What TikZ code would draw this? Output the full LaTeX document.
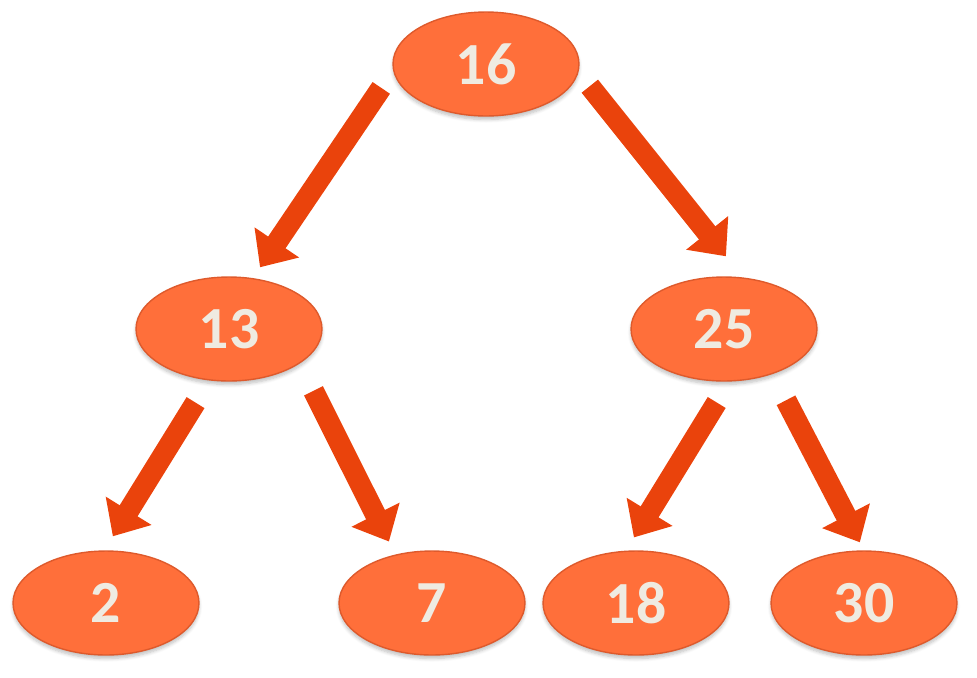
\documentclass[tikz,border=0pt]{standalone}
\usepackage{fontspec}
\setmainfont{Carlito}
\usepackage{xcolor}
\usepackage{tikz}
\usetikzlibrary{shapes.geometric, arrows.meta, shadows.blur}
\definecolor{keycolor}{HTML}{FF6F3A}
\definecolor{keyedge}{HTML}{DE5A2C}
\definecolor{linkcolor}{HTML}{EA430C}
\definecolor{digitcolor}{HTML}{EFEBE1}

\begin{document}
\begin{tikzpicture}[
    x=0.02cm, y=-0.02cm,
    key/.style={ellipse, draw=keyedge, line width=0.8pt, fill=keycolor, minimum width=3.72cm, minimum height=2.08cm, inner sep=0pt, text=digitcolor, font=\fontsize{34}{40}\selectfont\bfseries, blur shadow={shadow xshift=0pt, shadow yshift=-2pt, shadow blur steps=6, shadow opacity=25}},
    link/.style={line width=0.42cm, draw=linkcolor, -{Triangle[length=0.6cm, width=1.04cm]}}
]
\useasboundingbox (0,0) rectangle (977,677);
% keys of the tree
\node[key] (k16) at (486,64) {16};
\node[key] (k13) at (229,329) {13};
\node[key] (k25) at (724,329) {25};
\node[key] (k2) at (106,603) {2};
\node[key] (k7) at (432,603) {7};
\node[key] (k18) at (636,603) {18};
\node[key] (k30) at (864,603) {30};
% links
\draw[link, shorten <=0.42cm, shorten >=0.26cm] (k16.184) -- (k13.65);
\draw[link, shorten <=0.36cm, shorten >=0.54cm] (k16.355) -- (k25.70);
\draw[link, shorten <=0.52cm, shorten >=0.33cm] (k13.249) -- (k2.92);
\draw[link, shorten <=0.61cm, shorten >=0.29cm] (k13.334) -- (k7.127);
\draw[link, shorten <=0.49cm, shorten >=0.31cm] (k25.276) -- (k18.101);
\draw[link, shorten <=0.59cm, shorten >=0.18cm] (k25.317) -- (k30.90);
\end{tikzpicture}
\end{document}
